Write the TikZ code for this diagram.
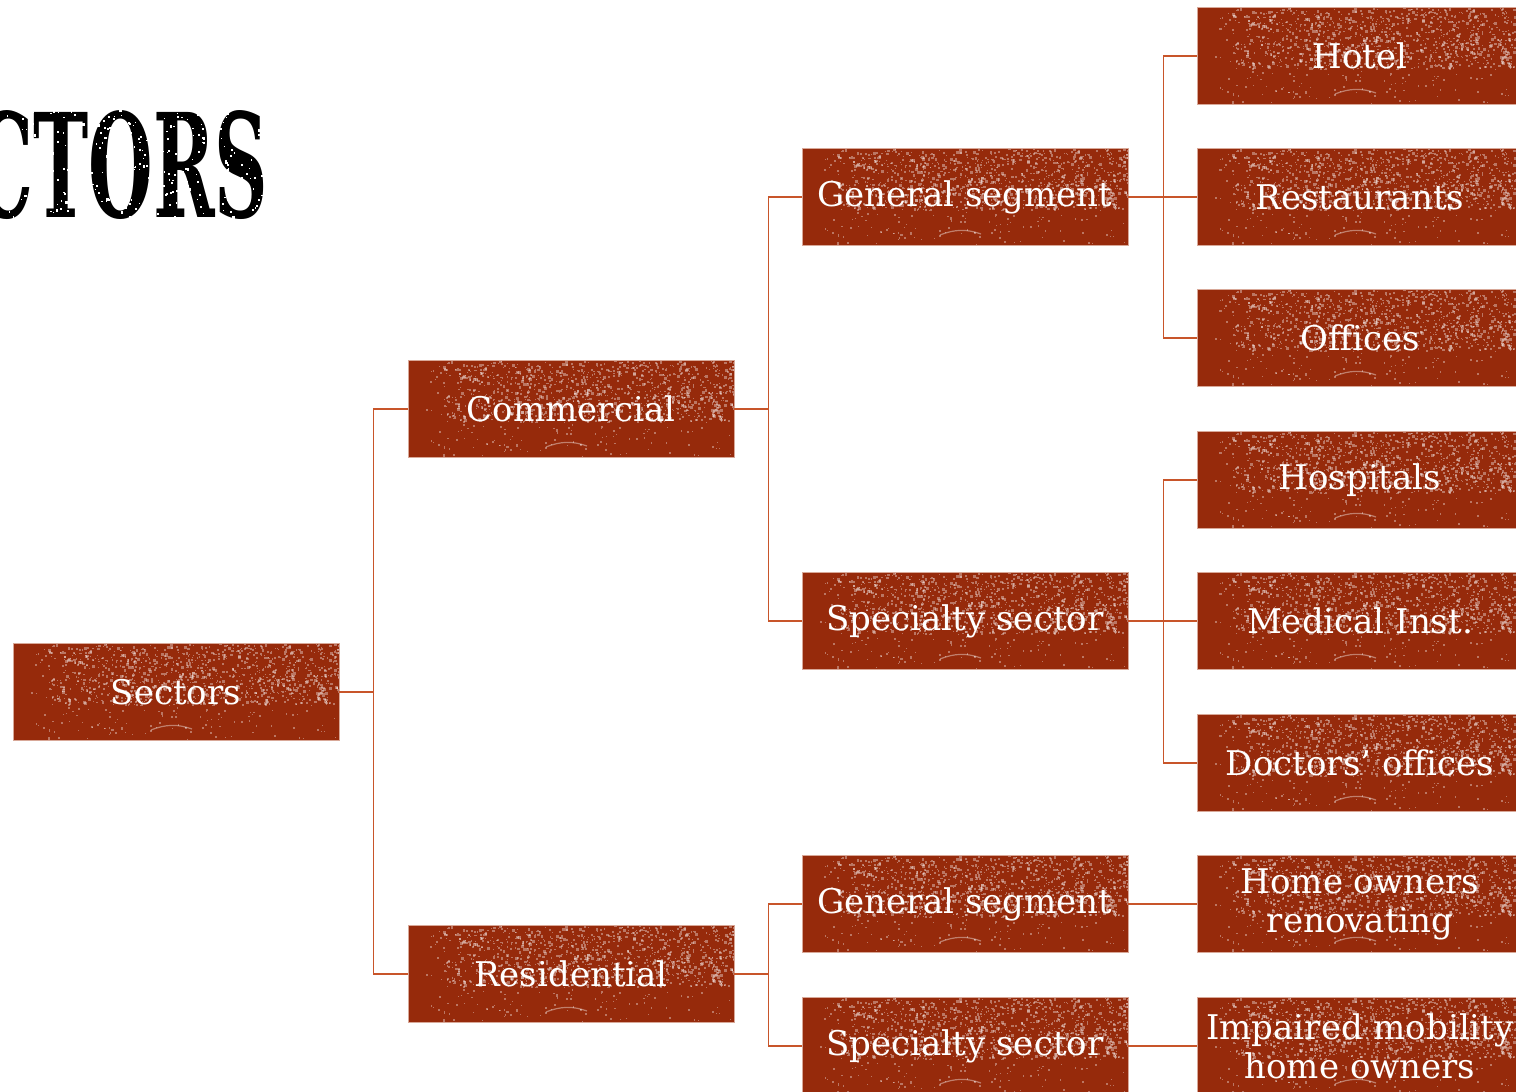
\documentclass[tikz,border=0pt]{standalone}
\usepackage{fontspec}
\usepackage{graphicx}
\usetikzlibrary{calc}
\newfontfamily\slabfont{DejaVu Serif}
\definecolor{rust}{HTML}{962A0B}
\definecolor{rustedge}{HTML}{D8A898}
\definecolor{linkc}{HTML}{C8552A}
\newsavebox\grainbox
\tikzset{
  tile/.style={
    minimum width=326pt, minimum height=97pt, inner sep=0pt,
    fill=rust, draw=rustedge, line width=0.8pt,
    text=white, align=center,
    font=\slabfont\fontsize{34}{39}\selectfont,
    path picture={\pgftext[at=\pgfpointanchor{path picture bounding box}{center}]{\usebox\grainbox}}
  },
  link/.style={draw=linkc, line width=1.4pt}
}
\begin{document}
% one worn-print texture, shared by every tile
\pgfmathsetseed{1234}
\begin{lrbox}{\grainbox}%
\begin{pgfpicture}
  \pgfpathrectangle{\pgfpoint{-163pt}{-48.5pt}}{\pgfpoint{326pt}{97pt}}
  \pgfusepath{use as bounding box}
  \pgfsetfillcolor{white}
  \pgfsetfillopacity{0.36}
  % dense grain along the upper band
  \foreach \k in {1,...,900}{
    \pgfmathsetmacro\px{18+146*rand}
    \pgfmathsetmacro\py{16+30*rand}
    \pgfmathsetmacro\rr{0.8+2.2*rnd}
    \pgfpathrectangle{\pgfpoint{\px pt}{\py pt}}{\pgfpoint{\rr pt}{\rr pt}}
    \pgfusepath{fill}
  }
  % sparse grain over the whole face
  \foreach \k in {1,...,350}{
    \pgfmathsetmacro\px{10+155*rand}
    \pgfmathsetmacro\py{48*rand}
    \pgfmathsetmacro\rr{0.7+1.6*rnd}
    \pgfpathrectangle{\pgfpoint{\px pt}{\py pt}}{\pgfpoint{\rr pt}{\rr pt}}
    \pgfusepath{fill}
  }
  % scratch near the bottom edge
  \pgfsetstrokecolor{white}
  \pgfsetstrokeopacity{0.4}
  \pgfsetlinewidth{1.2pt}
  \pgfpathmoveto{\pgfpoint{-25pt}{-38pt}}
  \pgfpathcurveto{\pgfpoint{-10pt}{-32pt}}{\pgfpoint{2pt}{-32pt}}{\pgfpoint{16pt}{-37pt}}
  \pgfusepath{stroke}
\end{pgfpicture}%
\end{lrbox}%
\begin{tikzpicture}[x=1pt, y=-1pt]
\pgfmathsetseed{4321}
\useasboundingbox (0,0) rectangle (1516,1092);
\fill[white] (0,0) rectangle (1516,1092);
\clip (0,0) rectangle (1516,1092);

% heading, running in from the left edge
\node[anchor=base west, inner sep=0pt] (title) at (-26,217)
  {\resizebox{294pt}{107pt}{\slabfont\bfseries CTORS}};
% worn ink on the heading
\foreach \k in {1,...,400}{
  \pgfmathsetmacro\px{134+134*rand}
  \pgfmathsetmacro\py{164+54*rand}
  \pgfmathsetmacro\rr{0.8+1.6*rnd}
  \fill[white] (\px,\py) rectangle ++(\rr,\rr);
}

% level 1
\node[tile] (sec) at (176,692) {Sectors};
% level 2
\node[tile] (com) at (571,409) {Commercial};
\node[tile] (res) at (571,974) {Residential};
% level 3
\node[tile] (cgen) at (965,197) {General segment};
\node[tile] (cspe) at (965,621) {Specialty sector};
\node[tile] (rgen) at (965,904) {General segment};
\node[tile] (rspe) at (965,1046) {Specialty sector};
% level 4
\node[tile] (hot) at (1360,56) {Hotel};
\node[tile] (rst) at (1360,197) {Restaurants};
\node[tile] (off) at (1360,338) {Offices};
\node[tile] (hos) at (1360,480) {Hospitals};
\node[tile] (med) at (1360,621) {Medical Inst.};
\node[tile] (doc) at (1360,763) {Doctors’ offices};
\node[tile] (hor) at (1360,904) {Home owners\\renovating};
\node[tile] (imp) at (1360,1046) {Impaired mobility\\home owners};

% connectors
\draw[link] (sec.east) -- ++(34,0) |- (com.west);
\draw[link] (sec.east) -- ++(34,0) |- (res.west);
\draw[link] (com.east) -- ++(34,0) |- (cgen.west);
\draw[link] (com.east) -- ++(34,0) |- (cspe.west);
\draw[link] (res.east) -- ++(34,0) |- (rgen.west);
\draw[link] (res.east) -- ++(34,0) |- (rspe.west);
\draw[link] (cgen.east) -- ++(35,0) |- (hot.west);
\draw[link] (cgen.east) -- (rst.west);
\draw[link] (cgen.east) -- ++(35,0) |- (off.west);
\draw[link] (cspe.east) -- ++(35,0) |- (hos.west);
\draw[link] (cspe.east) -- (med.west);
\draw[link] (cspe.east) -- ++(35,0) |- (doc.west);
\draw[link] (rgen.east) -- (hor.west);
\draw[link] (rspe.east) -- (imp.west);
\end{tikzpicture}
\end{document}
